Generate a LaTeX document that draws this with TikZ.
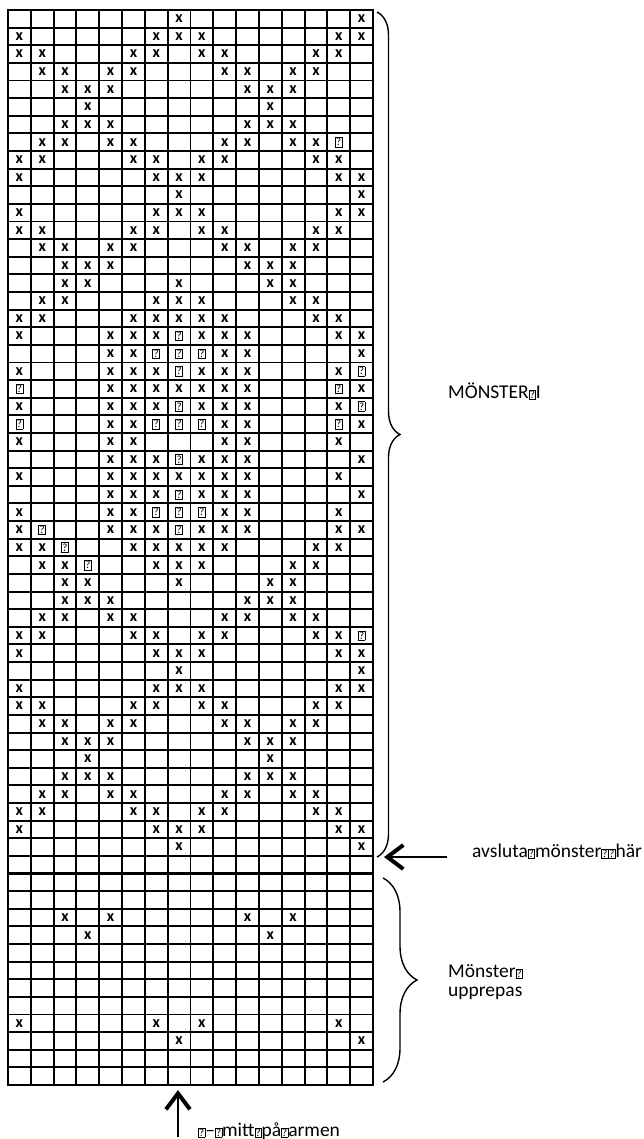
\documentclass[tikz,border=0pt]{standalone}
\usepackage{fontspec}
\setmainfont{Carlito}
\usetikzlibrary{arrows.meta, decorations.pathreplacing}
\tikzstyle{rute} = [line width=1.9pt, draw=black]
\tikzstyle{ram} = [line width=2.6pt, draw=black]
\tikzstyle{kryss} = [inner sep=0pt, 
font=\bfseries\fontsize{16}{16}\selectfont]
\tikzstyle{fraga} = [inner sep=0pt]
\tikzstyle{notetext} = [anchor=west, 
inner sep=0pt, 
align=left, 
font=\fontsize{19.5}{19}\selectfont]
\tikzstyle{klammer} = [decorate, line width=1.4pt, draw=black]
\tikzstyle{pil} = [line width=1.4pt,-{Straight Barb[line width=4pt, length=16pt, width=24pt]},draw=black]
\newcommand\tofu{{\fboxsep=0.4pt\fboxrule=0.6pt\fbox{\fontsize{11}{11}\selectfont ?}}}
\newcommand\qruta{{\fboxsep=0.6pt\fboxrule=0.7pt\fbox{\fontsize{11}{11}\selectfont ?}}}

\begin{document}
\begin{tikzpicture}[x=1pt, y=-1pt]
        \useasboundingbox (0,0) rectangle (644,1139);

        % Rutnät
        \foreach \i in {0,...,16}
            \draw[rute] ({8+\i*22.8125},10) -- ({8+\i*22.8125},1085);
        \foreach \j in {0,...,61}
            \draw[rute] (8,{10+\j*17.623}) -- (373,{10+\j*17.623});
        \draw[ram] (8,10) rectangle (373,1085);
        \draw[ram] (8,{10+49*17.623}) -- (373,{10+49*17.623});

        % Kryss
        \foreach \r/\cols in {1/{8,16}, 2/{1,7,8,9,15,16}, 3/{1,2,6,7,9,10,14,15},
            4/{2,3,5,6,10,11,13,14}, 5/{3,4,5,11,12,13}, 6/{4,12}, 7/{3,4,5,11,12,13},
            8/{2,3,5,6,10,11,13,14}, 9/{1,2,6,7,9,10,14,15}, 10/{1,7,8,9,15,16},
            11/{8,16}, 12/{1,7,8,9,15,16}, 13/{1,2,6,7,9,10,14,15},
            14/{2,3,5,6,10,11,13,14}, 15/{3,4,5,11,12,13}, 16/{3,4,8,12,13},
            17/{2,3,7,8,9,13,14}, 18/{1,2,6,7,8,9,10,14,15}, 19/{1,5,6,7,9,10,11,15,16},
            20/{5,6,10,11,16}, 21/{1,5,6,7,9,10,11,15}, 22/{5,6,7,8,9,10,11,16},
            23/{1,5,6,7,9,10,11,15}, 24/{5,6,10,11,16}, 25/{1,5,6,10,11,15},
            26/{5,6,7,9,10,11,16}, 27/{1,5,6,7,8,9,10,11,15}, 28/{5,6,7,9,10,11,16},
            29/{1,5,6,10,11,15}, 30/{1,5,6,7,9,10,11,15,16}, 31/{1,2,6,7,8,9,10,14,15},
            32/{2,3,7,8,9,13,14}, 33/{3,4,8,12,13}, 34/{3,4,5,11,12,13},
            35/{2,3,5,6,10,11,13,14}, 36/{1,2,6,7,9,10,14,15}, 37/{1,7,8,9,15,16},
            38/{8,16}, 39/{1,7,8,9,15,16}, 40/{1,2,6,7,9,10,14,15},
            41/{2,3,5,6,10,11,13,14}, 42/{3,4,5,11,12,13}, 43/{4,12},
            44/{3,4,5,11,12,13}, 45/{2,3,5,6,10,11,13,14}, 46/{1,2,6,7,9,10,14,15},
            47/{1,7,8,9,15,16}, 48/{8,16}, 52/{3,5,11,13}, 53/{4,12},
            58/{1,7,9,15}, 59/{8,16}}
            \foreach \c in \cols
                \node[kryss] (x-\r-\c) at ({8+(\c-0.5)*22.8125},{10+(\r-0.5)*17.623}) {x};

        % Rutor med frågetecken
        \foreach \r/\c in {8/15, 19/8, 20/7, 20/8, 20/9, 21/8, 21/16, 22/1, 22/15,
            23/8, 23/16, 24/1, 24/7, 24/8, 24/9, 24/15, 26/8, 28/8, 29/7, 29/8, 29/9,
            30/2, 30/8, 31/3, 32/4, 36/16}
            \node[fraga] (q-\r-\c) at ({8+(\c-0.5)*22.8125},{10+(\r-0.5)*17.623}) {\qruta};

        % Texter
        \node[notetext] (monster1) at (448,391) {MÖNSTER\tofu{}I};
        \node[notetext] (avsluta) at (472,851) {avsluta\tofu{}mönster\tofu\tofu{}här};
        \node[notetext] (monster2) at (448,982) {Mönster\tofu\\upprepas};
        \node[notetext] (mitt) at (198,1131) {\tofu{}–\tofu{}mitt\tofu{}på\tofu{}armen};

        % Klamrar
        \coordinate (k1a) at (377,12);
        \coordinate (k1b) at (377,857);
        \coordinate (k2a) at (383,878);
        \coordinate (k2b) at (383,1082);
        \draw[klammer, decoration={brace, amplitude=23pt}] (k1a) -- (k1b);
        \draw[klammer, decoration={brace, amplitude=34pt}] (k2a) -- (k2b);

        % Pilar
        \coordinate (avslut-start) at (447,857);
        \coordinate (avslut-mal) at (384,857);
        \coordinate (mitt-start) at (178,1137);
        \coordinate (mitt-mal) at (178,1090);
        \draw[pil] (avslut-start) -- (avslut-mal);
        \draw[pil] (mitt-start) -- (mitt-mal);

    \end{tikzpicture}
\end{document}
